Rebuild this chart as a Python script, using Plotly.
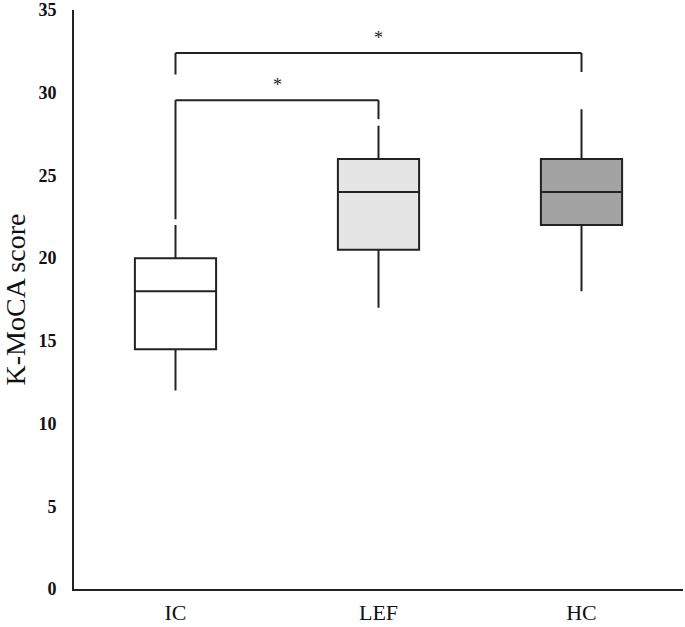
import plotly.graph_objects as go

groups = ["IC", "LEF", "HC"]
lower_whisker = [12, 17, 18]
q1 = [14.5, 20.5, 22]
median = [18, 24, 24]
q3 = [20, 26, 26]
upper_whisker = [22, 28, 29]
fill_colors = ["#ffffff", "#e5e5e5", "#a3a3a3"]

# significance brackets: (from group index, to group index, bracket height, leg ends)
bracket_pairs = [(0, 1), (0, 2)]
bracket_heights = [29.55, 32.4]
bracket_leg_bottoms = [(22.35, 28.4), (31.1, 31.25)]
bracket_labels = ["*", "*"]

y_ticks = [0, 5, 10, 15, 20, 25, 30, 35]

line_color = "#222222"
serif = "Liberation Serif, Times New Roman, serif"

fig = go.Figure()
for i, g in enumerate(groups):
    fig.add_trace(go.Box(
        x=[g],
        q1=[q1[i]], median=[median[i]], q3=[q3[i]],
        lowerfence=[lower_whisker[i]], upperfence=[upper_whisker[i]],
        fillcolor=fill_colors[i],
        line=dict(color=line_color, width=2),
        whiskerwidth=0,
        width=0.4,
        boxpoints=False,
        showlegend=False,
        hoverinfo="skip",
    ))

for (a, b), h, (la, lb), lab in zip(bracket_pairs, bracket_heights, bracket_leg_bottoms, bracket_labels):
    fig.add_shape(type="line", xref="x", yref="y", x0=a, x1=a, y0=la, y1=h,
                  line=dict(color=line_color, width=2))
    fig.add_shape(type="line", xref="x", yref="y", x0=a, x1=b, y0=h, y1=h,
                  line=dict(color=line_color, width=2))
    fig.add_shape(type="line", xref="x", yref="y", x0=b, x1=b, y0=lb, y1=h,
                  line=dict(color=line_color, width=2))
    fig.add_annotation(x=(a + b) / 2, y=h, xref="x", yref="y", text=lab,
                       showarrow=False, yanchor="bottom", yshift=3,
                       font=dict(family=serif, size=18, color=line_color))

fig.update_layout(
    width=685, height=627,
    margin=dict(l=74, r=2, t=10, b=38),
    paper_bgcolor="white", plot_bgcolor="white",
    boxmode="overlay",
    xaxis=dict(
        type="category", categoryorder="array", categoryarray=groups,
        range=[-0.5, 2.5], automargin=False,
        showline=True, linecolor=line_color, linewidth=2,
        showgrid=False, zeroline=False, ticks="",
        ticklabelstandoff=3,
        tickfont=dict(family=serif, size=22, color="#111111"),
    ),
    yaxis=dict(
        range=[0, 35], tickvals=y_ticks, automargin=False,
        showline=True, linecolor=line_color, linewidth=2,
        showgrid=False, zeroline=False, ticks="",
        ticklabelstandoff=12, ticklabeloverflow="allow",
        tickfont=dict(family=serif, size=18, color="#111111", weight="bold"),
        title=dict(text="K-MoCA score", standoff=20,
                   font=dict(family=serif, size=28, color="#111111")),
    ),
)

fig.write_html("out.html", config={"displayModeBar": False})

with open("out.html", "r", encoding="utf-8") as f:
    html = f.read()
html = html.replace("<head>", "<head><style>html,body{margin:0;padding:0;overflow:hidden;}</style>", 1)
with open("out.html", "w", encoding="utf-8") as f:
    f.write(html)
